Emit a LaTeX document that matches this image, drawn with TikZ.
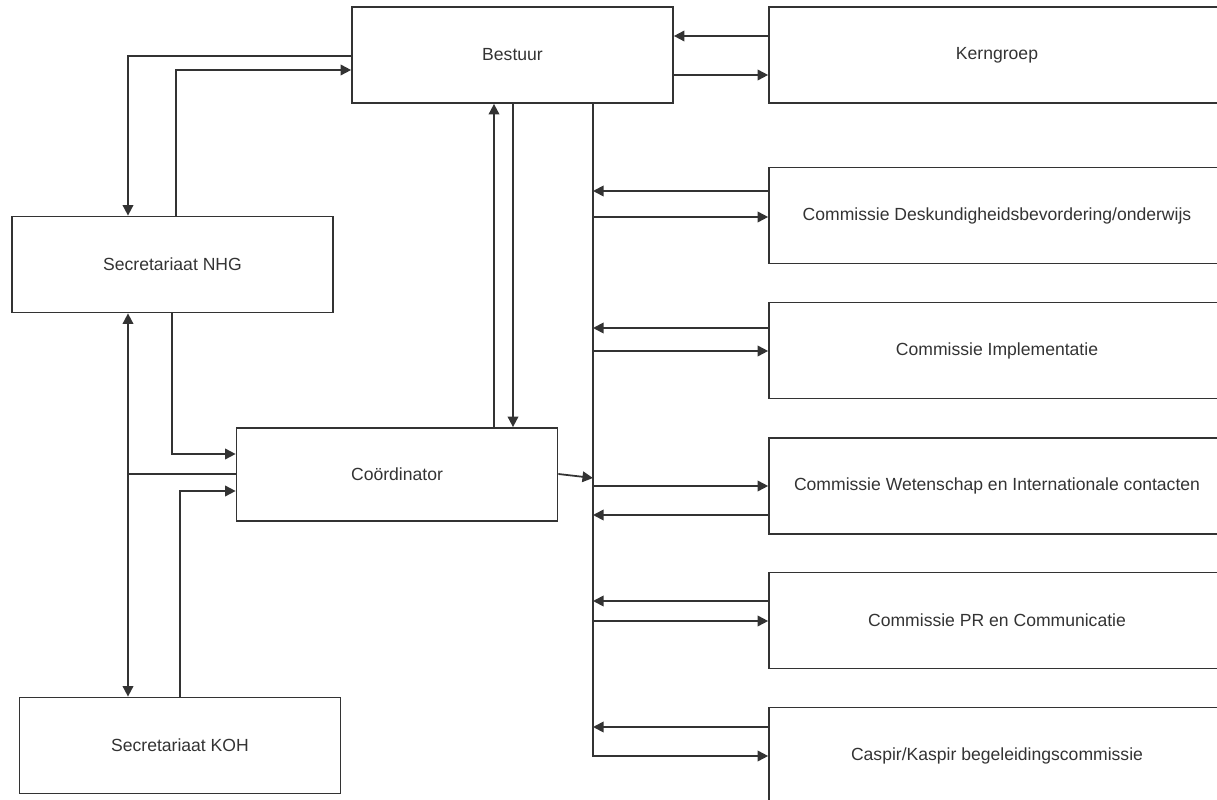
\documentclass[tikz,border=0pt]{standalone}
\usepackage{fontspec}
\setmainfont{Liberation Sans}
\usetikzlibrary{arrows.meta}

\begin{document}
\begin{tikzpicture}[x=0.02cm,y=-0.02cm,>={Triangle[length=6pt,width=6pt]},
  line width=1pt,color=black!80,
  box/.style={draw,rectangle,inner sep=0pt,minimum width=6.42cm,minimum height=1.92cm,font=\fontsize{10}{12}\selectfont},
  wide/.style={box,minimum width=9.12cm}]
  \useasboundingbox (0,0) rectangle (1217,800);
  \node[box] (bestuur) at (512.5,55) {Bestuur};
  \node[wide] (kern) at (997,55) {Kerngroep};
  \node[wide] (desk) at (997,215.5) {Commissie Deskundigheidsbevordering/onderwijs};
  \node[wide] (impl) at (997,350.5) {Commissie Implementatie};
  \node[wide] (wet) at (997,486) {Commissie Wetenschap en Internationale contacten};
  \node[wide] (pr) at (997,620.5) {Commissie PR en Communicatie};
  \node[wide] (caspir) at (997,755.5) {Caspir/Kaspir begeleidingscommissie};
  \node[box] (nhg) at (172.5,264.5) {Secretariaat NHG};
  \node[box,minimum height=1.86cm] (coord) at (397,474.5) {Coördinator};
  \node[box] (koh) at (180,745.5) {Secretariaat KOH};
  \coordinate (bus) at (593,756);
  \coordinate (join) at (128,474);

  \draw[->] (kern.west |- 0,36) -- (bestuur.east |- 0,36);
  \draw[->] (bestuur.east |- 0,75) -- (kern.west |- 0,75);
  \draw[->] (bestuur.west |- 0,56) -| (nhg.north -| 128,0);
  \draw[->] (nhg.north -| 176,0) |- (bestuur.west |- 0,70);
  \draw[<->] (nhg.south -| join) -- (koh.north -| join);
  \draw (coord.west |- join) -- (join);
  \draw[->] (nhg.south -| 172,0) |- (coord.west |- 0,454);
  \draw[->] (koh.north -| 180,0) |- (coord.west |- 0,491);
  \draw[->] (coord.north -| 494,0) -- (bestuur.south -| 494,0);
  \draw[->] (bestuur.south -| 513,0) -- (coord.north -| 513,0);
  \draw[->] (coord.east |- 0,474) -- (bus |- 0,478);
  \draw[->] (bestuur.south -| bus) |- (caspir.west |- bus);

  \foreach \n/\y in {desk/191, impl/328, wet/515, pr/601, caspir/727}
    \draw[->] (\n.west |- 0,\y) -- (bus |- 0,\y);
  \foreach \n/\y in {desk/217, impl/351, wet/486, pr/621}
    \draw[->] (bus |- 0,\y) -- (\n.west |- 0,\y);

\end{tikzpicture}
\end{document}
